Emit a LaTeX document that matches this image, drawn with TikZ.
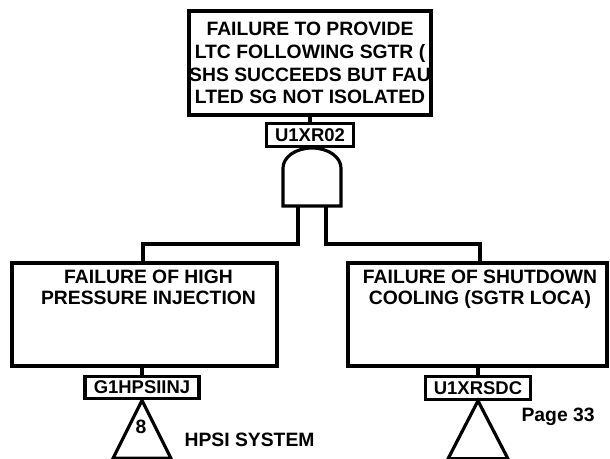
\documentclass[tikz,border=0pt]{standalone}
\usepackage{fontspec}
\setmainfont{Liberation Sans}
\usetikzlibrary{positioning}

\begin{document}
\begin{tikzpicture}[line width=1.8pt,
    event/.style={draw, rectangle, inner sep=0pt, align=center, font=\bfseries\fontsize{11}{13}\selectfont},
    tag/.style={draw, rectangle, inner xsep=5pt, inner ysep=0pt, minimum height=0.45cm, font=\bfseries\fontsize{10.5}{12}\selectfont},
    txt/.style={inner sep=0pt, align=center, font=\bfseries\fontsize{11}{11.5}\selectfont}]
  \useasboundingbox (0,0) rectangle (12.2,9.18);

  % top event and its gate
  \node[event, minimum width=4.84cm, minimum height=2.08cm] (top) at (6.2,7.92)
    {FAILURE TO PROVIDE\\LTC FOLLOWING SGTR (\\SHS SUCCEEDS BUT FAU\\LTED SG NOT ISOLATED};
  \node[tag] (toptag) at (6.2,6.48) {U1XR02};
  \draw (top) -- (toptag);

  \coordinate (and) at (6.24,5.06);
  \draw (and) ++(-0.58,0) -- ++(0,0.76)
    arc[start angle=180, end angle=0, x radius=0.58, y radius=0.4] -- ++(0,-0.76) -- cycle;
  \coordinate (andl) at (5.96,5.06);
  \coordinate (andr) at (6.52,5.06);

  % inputs
  \node[draw, minimum width=5.3cm, minimum height=2.06cm] (hpi) at (2.89,2.89) {};
  \node[txt, below=0.15cm of hpi.north, xshift=0.08cm] (hpitext) {FAILURE OF HIGH\\PRESSURE INJECTION};
  \node[draw, minimum width=5.18cm, minimum height=2.06cm] (sdc) at (9.55,2.89) {};
  \node[txt, below=0.15cm of sdc.north, xshift=0.05cm] (sdctext) {FAILURE OF SHUTDOWN\\COOLING (SGTR LOCA)};

  \draw (andl) -- ++(0,-0.76) -| (hpi.north -| 2.86,0);
  \draw (andr) -- ++(0,-0.76) -| (sdc.north -| 9.6,0);

  \node[tag] (hpitag) at (2.84,1.43) {G1HPSIINJ};
  \node[tag] (sdctag) at (9.56,1.42) {U1XRSDC};
  \draw (hpitag.north |- hpi.south) -- (hpitag.north);
  \draw (sdctag.north |- sdc.south) -- (sdctag.north);

  % transfers
  \draw (hpitag.south) -- ++(-0.58,-1.16) -- ++(1.16,0) -- cycle;
  \draw (sdctag.south) -- ++(-0.6,-1.16) -- ++(1.2,0) -- cycle;
  \node[txt] (xfer) at (2.82,0.64) {8};
  \node[txt, anchor=west] (sys) at (3.66,0.38) {HPSI SYSTEM};
  \node[txt, anchor=west] (page) at (10.4,0.84) {Page 33};
\end{tikzpicture}
\end{document}
